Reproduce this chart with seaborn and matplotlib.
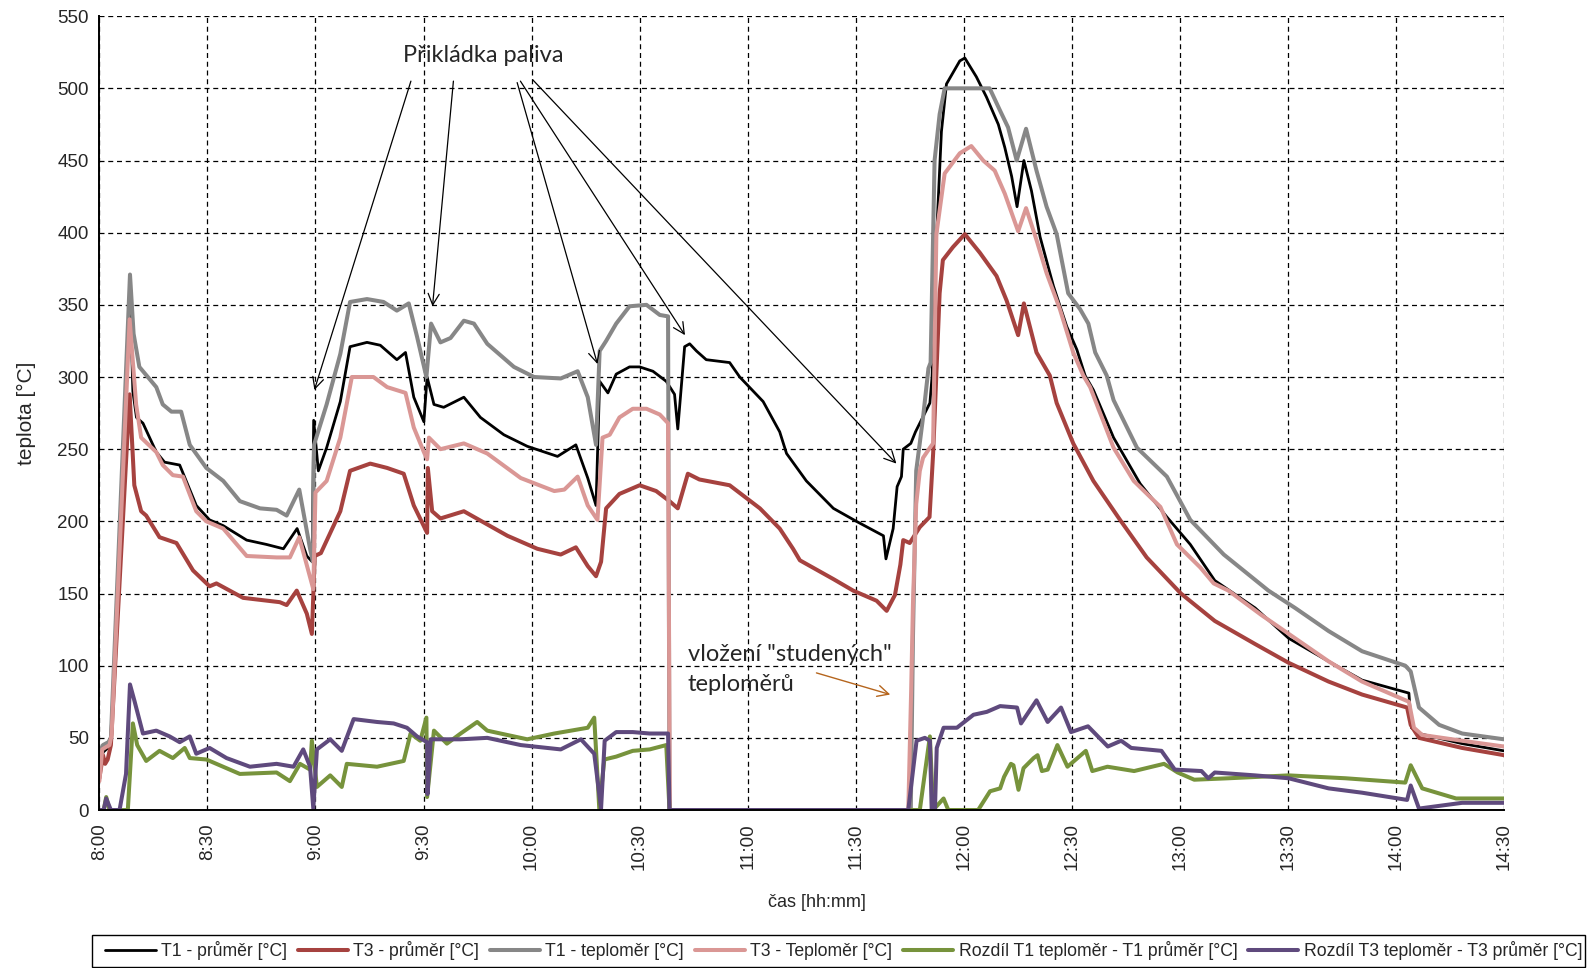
import matplotlib
matplotlib.use("Agg")
import matplotlib.pyplot as plt
from matplotlib.patches import Rectangle
import seaborn as sns
import pandas as pd

# Time is given in minutes after 8:00.
TICK_MINUTES = list(range(0, 391, 30))
TICK_LABELS = ["8:00", "8:30", "9:00", "9:30", "10:00", "10:30", "11:00",
               "11:30", "12:00", "12:30", "13:00", "13:30", "14:00", "14:30"]
Y_TICKS = list(range(0, 551, 50))

# (minute, temperature °C) samples of each series
T1_AVG = [(0, 25), (1, 40), (2.8, 44), (3.4, 52), (8.5, 360), (9.3, 290), (10.3, 272), (12.1, 268),
          (15.8, 248), (18.1, 241), (22.3, 239), (26.9, 211), (30.6, 201), (34.4, 197), (40.9, 187),
          (46.4, 184), (51.1, 181), (54.9, 195), (57.6, 176), (59.1, 172), (59.5, 270), (60.8, 235),
          (63.1, 251), (66.9, 283), (69.6, 321), (74.3, 324), (78.0, 322), (82.6, 312), (85.0, 317),
          (87.3, 286), (90.1, 269), (91.0, 300), (92.9, 281), (95.6, 279), (101.2, 286), (105.8, 272),
          (112.3, 260), (118.8, 252), (127.2, 245), (132.3, 253), (135.6, 230), (137.9, 211),
          (138.9, 297), (141.2, 289), (143.5, 302), (147.2, 307), (150.0, 307), (153.7, 304),
          (157.4, 297), (159.7, 288), (160.6, 264), (162.5, 321), (163.9, 323), (165.8, 318),
          (168.5, 312), (175.0, 310), (177.8, 300), (184.3, 283), (188.9, 262), (190.8, 247),
          (196.3, 228), (203.8, 209), (210.2, 200), (217.7, 190), (218.4, 174), (220.4, 195),
          (221.5, 224), (222.7, 231), (223.2, 250), (225.3, 254), (226.6, 262), (230.6, 282),
          (231.2, 300), (232.5, 400), (233.8, 470), (235.2, 503), (238.9, 519), (240.3, 521),
          (243.5, 508), (246.3, 494), (249.6, 475), (251.4, 459), (253.3, 439), (254.8, 418),
          (256.7, 450), (258.8, 429), (261.2, 397), (264.9, 363), (268.6, 335), (271.4, 319),
          (273.7, 301), (276.0, 291), (281.6, 258), (289.0, 226), (296.4, 203), (302.9, 184),
          (309.7, 159), (320.9, 140), (330.2, 119), (341.3, 103), (350.6, 90), (363.6, 81),
          (364.3, 57), (366.4, 53), (378.4, 46), (390, 41)]

T3_AVG = [(0, 22), (1, 38), (1.6, 32), (2.3, 35), (3.2, 45), (8.4, 288), (9.7, 225), (11.6, 207),
          (13.0, 204), (16.7, 189), (21.4, 185), (26.0, 166), (30.6, 155), (32.5, 157), (39.9, 147),
          (50.1, 144), (52.0, 142), (54.8, 152), (57.6, 136), (59.0, 122), (59.8, 176), (61.5, 178),
          (66.9, 207), (69.6, 235), (75.2, 240), (79.9, 237), (84.5, 233), (87.3, 211), (91.0, 192),
          (91.2, 237), (92.4, 207), (94.7, 202), (101.2, 207), (113.3, 190), (121.6, 181),
          (128.1, 177), (132.3, 182), (135.6, 169), (137.9, 162), (139.3, 172), (140.7, 209),
          (144.4, 219), (150.0, 225), (154.6, 221), (158.3, 214), (160.6, 209), (163.4, 233),
          (166.6, 229), (175.0, 225), (183.4, 209), (188.9, 195), (192.6, 181), (194.5, 173),
          (203.8, 160), (209.3, 152), (215.8, 145), (218.6, 138), (220.9, 149), (222.4, 170),
          (223.2, 187), (225.0, 185), (227.8, 196), (230.5, 203), (231.5, 247), (233.3, 358),
          (234.2, 381), (237.0, 390), (240.3, 399), (244.5, 386), (249.1, 370), (251.9, 353),
          (255.1, 329), (256.7, 351), (260.2, 317), (263.9, 301), (265.8, 282), (270.4, 254),
          (276.0, 228), (283.4, 201), (290.8, 175), (300.3, 150), (309.7, 131), (320.9, 115),
          (330.2, 102), (341.3, 89), (350.6, 80), (363.1, 71), (364.1, 59), (366.4, 50),
          (378.4, 43), (390, 38)]

T1_PROBE = [(0, 40), (1, 45), (2.5, 47), (3.2, 50), (8.5, 371), (9.5, 330), (11.1, 307), (15.8, 293),
            (17.6, 281), (20.0, 276), (22.7, 276), (25.1, 253), (29.7, 237), (34.4, 228), (39.0, 214),
            (44.6, 209), (49.2, 208), (52.0, 204), (55.5, 222), (58.5, 181), (59.3, 172), (59.6, 253),
            (63.1, 281), (66.9, 316), (69.6, 352), (74.3, 354), (78.9, 352), (82.6, 346), (85.9, 351),
            (88.2, 328), (90.8, 300), (92.1, 337), (94.7, 324), (97.5, 327), (101.2, 339), (104.0, 337),
            (107.7, 323), (115.1, 307), (120.7, 300), (128.1, 299), (132.8, 304), (135.6, 286),
            (137.9, 253), (138.9, 318), (140.7, 325), (143.5, 337), (147.2, 349), (151.9, 350),
            (155.6, 343), (157.9, 342), (158.3, 0), (225.3, 0), (225.9, 120), (226.8, 235),
            (228.7, 272), (230.2, 306), (230.8, 310), (231.9, 450), (233.3, 482), (234.7, 500),
            (247.2, 500), (250.0, 485), (252.3, 473), (254.7, 450), (257.3, 472), (260.2, 443),
            (263.0, 418), (265.8, 399), (269.0, 358), (272.3, 347), (274.6, 337), (276.5, 317),
            (279.7, 301), (281.6, 284), (288.1, 251), (296.4, 231), (302.9, 201), (312.2, 177),
            (324.6, 152), (332.0, 140), (341.3, 124), (350.6, 110), (362.6, 100), (364.1, 96),
            (366.4, 71), (372.0, 59), (378.4, 53), (390, 49)]

T3_PROBE = [(0, 20), (0.8, 42), (2.8, 45), (3.4, 52), (8.4, 340), (10.2, 281), (11.6, 258), (15.8, 248),
            (17.6, 239), (20.4, 232), (23.2, 231), (26.9, 207), (29.7, 200), (34.4, 195), (40.9, 176),
            (49.2, 175), (52.9, 175), (55.5, 189), (59.4, 153), (60.0, 220), (63.1, 228), (66.9, 258),
            (70.1, 300), (76.1, 300), (79.9, 293), (85.0, 289), (87.3, 265), (90.1, 248), (91.0, 243),
            (91.5, 258), (94.7, 250), (101.2, 254), (107.7, 247), (117.0, 230), (126.3, 221),
            (129.1, 222), (132.8, 231), (135.6, 211), (138.3, 201), (139.7, 258), (141.7, 260),
            (144.4, 272), (148.1, 278), (151.9, 278), (155.6, 274), (157.9, 268), (158.4, 0),
            (224.6, 0), (225.4, 83), (225.9, 143), (226.8, 212), (227.8, 235), (228.7, 244),
            (230.6, 251), (231.5, 254), (232.4, 399), (234.7, 441), (238.9, 455), (242.1, 460),
            (245.4, 450), (248.6, 443), (251.4, 427), (255.1, 401), (257.3, 417), (260.2, 395),
            (263.0, 372), (266.7, 347), (270.4, 317), (273.2, 301), (275.1, 293), (281.6, 251),
            (287.2, 228), (294.6, 210), (299.2, 184), (305.7, 168), (309.4, 157), (313.5, 152),
            (322.7, 135), (332.0, 119), (341.3, 103), (350.6, 89), (363.6, 75), (365.0, 57),
            (367.3, 52), (378.4, 48), (390, 44)]

DIFF_T1 = [(0, 0), (1.2, 0), (1.9, 9), (2.8, 0), (7.9, 0), (9.3, 60), (10.5, 45), (13.0, 34), (16.7, 41),
           (20.4, 36), (23.7, 43), (25.1, 36), (29.7, 35), (39.0, 25), (49.2, 26), (52.9, 20), (55.7, 32),
           (58.5, 28), (59.0, 48), (60.4, 16), (64.1, 24), (67.3, 16), (68.7, 32), (77.1, 30), (84.5, 34),
           (86.4, 53), (89.1, 48), (90.8, 64), (91.0, 9), (92.9, 55), (96.5, 46), (100.3, 53),
           (104.9, 61), (107.7, 55), (118.8, 49), (126.3, 53), (135.6, 57), (137.4, 64), (138.8, 1),
           (140.2, 35), (143.5, 37), (148.1, 41), (152.8, 42), (157.4, 45), (158.3, 0), (227.8, 0),
           (230.6, 51), (231.5, 0), (234.4, 8), (235.7, 0), (244.0, 0), (247.3, 13), (250.1, 15),
           (251.2, 23), (253.1, 32), (253.8, 31), (255.2, 14), (256.6, 29), (259.4, 36), (260.5, 38),
           (261.7, 27), (263.3, 28), (266.0, 45), (268.8, 30), (273.9, 41), (275.7, 27), (279.9, 30),
           (287.3, 27), (295.6, 32), (299.4, 26), (304.0, 21), (313.5, 22), (330.2, 24), (346.0, 22),
           (362.6, 19), (364.1, 31), (367.3, 15), (376.7, 8), (390, 8)]

DIFF_T3 = [(0, 0), (1.2, 0), (1.9, 8), (3.2, 0), (5.6, 0), (7.4, 25), (8.5, 87), (9.7, 76), (12.1, 53),
           (15.8, 55), (19.5, 51), (22.3, 47), (25.1, 51), (26.9, 39), (30.6, 43), (35.3, 36), (41.8, 30),
           (49.2, 32), (53.9, 30), (56.6, 42), (58.5, 30), (59.4, 1), (60.4, 42), (64.1, 49), (67.3, 41),
           (70.6, 63), (77.1, 61), (81.7, 60), (85.4, 57), (88.2, 51), (91.0, 47), (91.1, 11), (92.0, 49),
           (100.3, 49), (107.7, 50), (117.0, 45), (128.1, 42), (133.7, 49), (137.4, 39), (139.3, 1),
           (140.3, 48), (143.5, 54), (148.1, 54), (152.8, 53), (157.9, 53), (158.3, 0), (224.6, 0),
           (226.9, 48), (229.2, 50), (230.6, 48), (231.1, 0), (232.0, 0), (232.5, 43), (234.4, 57),
           (238.1, 57), (242.7, 66), (246.4, 68), (250.1, 72), (254.8, 71), (255.9, 60), (260.2, 76),
           (263.3, 61), (267.0, 71), (269.8, 54), (274.5, 58), (280.0, 44), (283.7, 48), (286.5, 43),
           (294.9, 41), (298.6, 28), (306.0, 27), (307.9, 22), (309.7, 26), (320.9, 24), (330.2, 22),
           (341.3, 15), (350.6, 12), (363.1, 7), (364.1, 17), (366.4, 1), (378.4, 5), (390, 5)]

SERIES = [
    ("T1 - průměr [°C]", T1_AVG, "#000000", 2.0),
    ("T3 - průměr [°C]", T3_AVG, "#A6423F", 2.9),
    ("T1 - teploměr [°C]", T1_PROBE, "#878787", 2.9),
    ("T3 - Teploměr [°C]", T3_PROBE, "#DA9795", 2.9),
    ("Rozdíl T1 teploměr - T1 průměr [°C]", DIFF_T1, "#77933C", 2.9),
    ("Rozdíl T3 teploměr - T3 průměr [°C]", DIFF_T3, "#5F4A7D", 2.9),
]

sns.set_style("white")
plt.rcParams["font.family"] = ["Liberation Sans", "DejaVu Sans"]
NOTE_FONT = ["Lato", "DejaVu Sans"]

fig = plt.figure(figsize=(15.9, 9.68), dpi=100)
ax = fig.add_axes([0.0625, 0.1632, 0.8834, 0.8201])

for name, pts, color, lw in SERIES:
    df = pd.DataFrame(pts, columns=["min", "temp"])
    sns.lineplot(data=df, x="min", y="temp", ax=ax, sort=False, estimator=None,
                 color=color, linewidth=lw, label=name,
                 solid_joinstyle="round", solid_capstyle="round")

ax.set_xlim(0, 390)
ax.set_ylim(0, 550)
ax.set_xticks(TICK_MINUTES)
ax.set_xticklabels(TICK_LABELS, rotation=90)
ax.set_yticks(Y_TICKS)
ax.tick_params(axis="both", labelsize=13.5, direction="out", length=4.5, width=1, color="black")
ax.tick_params(axis="x", pad=5)
ax.tick_params(axis="y", pad=3)

ax.set_axisbelow(True)
ax.grid(True, color="black", linestyle=(0, (4, 3)), linewidth=0.9)
for side in ("top", "right"):
    ax.spines[side].set_visible(False)
for side in ("left", "bottom"):
    ax.spines[side].set_color("black")
    ax.spines[side].set_linewidth(1.4)

ax.set_xlabel("čas [hh:mm]", fontsize=13, va="center")
ax.xaxis.set_label_coords(0.511, -0.1165)
ax.set_ylabel("teplota [°C]", fontsize=15, va="center")
ax.yaxis.set_label_coords(-0.052, 0.5)

# refuelling annotations
ax.text(106.5, 523, "Přikládka paliva", fontsize=17, family=NOTE_FONT,
        ha="center", va="center")
fuel_arrows = [((86.5, 505), (59.7, 291)),
               ((98.3, 505), (92.5, 349)),
               ((116.0, 504), (138.3, 309)),
               ((116.9, 505), (162.6, 329)),
               ((120.3, 506), (221.3, 240))]
for start, end in fuel_arrows:
    ax.annotate("", xy=end, xytext=start,
                arrowprops=dict(arrowstyle="->", color="black", lw=0.9,
                                shrinkA=0, shrinkB=0, mutation_scale=20))

# cold thermometer insertion note
ax.text(163.3, 108, "vložení \"studených\"", fontsize=17, family=NOTE_FONT,
        ha="left", va="center")
ax.text(163.3, 87, "teploměrů", fontsize=17, family=NOTE_FONT, ha="left", va="center")
ax.annotate("", xy=(219.6, 80), xytext=(199.1, 95),
            arrowprops=dict(arrowstyle="->", color="#B5651D", lw=1.0,
                            shrinkA=0, shrinkB=0, mutation_scale=20))

# legend: entries spread across a separate frame under the chart
handles, labels = ax.get_legend_handles_labels()
ax.get_legend().remove()
fig.patches.append(Rectangle((0.0577, 0.0015), 0.9392, 0.0326, transform=fig.transFigure,
                             facecolor="white", edgecolor="black", linewidth=1.0, zorder=1))
leg = fig.legend(handles, labels, loc="center", ncol=6, mode="expand",
                 bbox_to_anchor=(0.0663, 0.0015, 0.9287, 0.0326),
                 fontsize=12.7, handlelength=2.85, handletextpad=0.3,
                 columnspacing=0.8, borderaxespad=0, borderpad=0,
                 frameon=False)
leg.set_zorder(2)

fig.savefig("out.png", dpi=100)
